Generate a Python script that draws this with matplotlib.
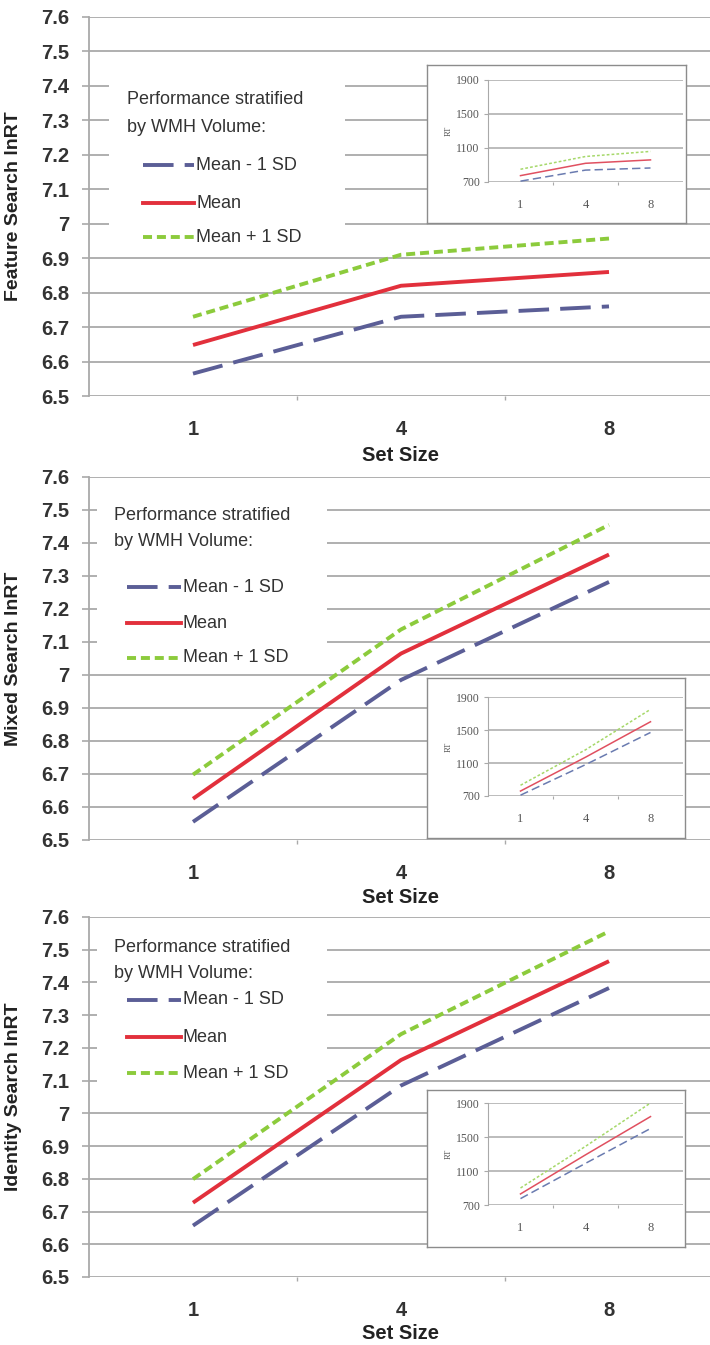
import matplotlib
matplotlib.use('Agg')
import matplotlib.pyplot as plt
import numpy as np
from matplotlib.lines import Line2D
from matplotlib.patches import Rectangle

# values (ln RT per set size)
set_sizes = ['1', '4', '8']
yticks = [6.5, 6.6, 6.7, 6.8, 6.9, 7.0, 7.1, 7.2, 7.3, 7.4, 7.5, 7.6]

feature_minus = [6.565, 6.730, 6.760]
feature_mean = [6.648, 6.820, 6.860]
feature_plus = [6.730, 6.910, 6.957]

mixed_minus = [6.555, 6.985, 7.282]
mixed_mean = [6.625, 7.065, 7.365]
mixed_plus = [6.698, 7.138, 7.455]

identity_minus = [6.657, 7.085, 7.383]
identity_mean = [6.727, 7.163, 7.465]
identity_plus = [6.799, 7.242, 7.556]

# inset values (raw RT)
inset_yticks = [700, 1100, 1500, 1900]
feature_rt_minus = [710, 840, 865]
feature_rt_mean = [775, 920, 960]
feature_rt_plus = [850, 1000, 1060]

mixed_rt_minus = [710, 1080, 1470]
mixed_rt_mean = [760, 1170, 1600]
mixed_rt_plus = [830, 1260, 1750]

identity_rt_minus = [775, 1190, 1600]
identity_rt_mean = [830, 1290, 1740]
identity_rt_plus = [900, 1390, 1900]

ylabels = ['Feature Search lnRT', 'Mixed Search lnRT', 'Identity Search lnRT']
series_names = ['Mean - 1 SD', 'Mean', 'Mean + 1 SD']
legend_title = ['Performance stratified', 'by WMH Volume:']

plt.rcParams['font.family'] = ['Liberation Sans', 'DejaVu Sans']
plt.rcParams['lines.scale_dashes'] = False

W, H = 710, 1345
fig = plt.figure(figsize=(W / 100, H / 100), dpi=100)

GRID = '#a9a9a9'
TXT = '#333333'
styles = [
    dict(color='#5b5e96', lw=2.8, dashes=(22, 8)),
    dict(color='#e2303c', lw=2.8, linestyle='-'),
    dict(color='#8ccb3c', lw=2.8, dashes=(6.5, 3.5)),
]
inset_styles = [
    dict(color='#6a7bb0', lw=1.1, dashes=(6, 3)),
    dict(color='#e05060', lw=1.1, linestyle='-'),
    dict(color='#a6d86a', lw=1.1, dashes=(2, 1.5)),
]


def rect(l, t, r, b):
    return [l / W, 1 - b / H, (r - l) / W, (b - t) / H]


def fx(x):
    return x / W


def fy(y):
    return 1 - y / H


layouts = [
    dict(ax=(89, 17, 713, 396), box=(109, 75, 345, 246), txt_x=127, title_y=(100, 128),
         entry_y=(165, 203, 237), line_x=(143, 194), inset=(427, 65, 686, 223),
         inset_ax=(488, 80, 683, 182), label_pad=5),
    dict(ax=(89, 477, 713, 840), box=(97, 492, 327, 664), txt_x=114, title_y=(515, 541),
         entry_y=(587, 623, 658), line_x=(127, 181), inset=(427, 678, 685, 838),
         inset_ax=(488, 697, 683, 796), label_pad=4),
    dict(ax=(89, 917, 713, 1277), box=(97, 930, 327, 1094), txt_x=114, title_y=(948, 973),
         entry_y=(1000, 1037, 1073), line_x=(127, 181), inset=(427, 1090, 685, 1247),
         inset_ax=(488, 1103, 683, 1205), label_pad=3),
]

main_data = [
    (feature_minus, feature_mean, feature_plus),
    (mixed_minus, mixed_mean, mixed_plus),
    (identity_minus, identity_mean, identity_plus),
]
inset_data = [
    (feature_rt_minus, feature_rt_mean, feature_rt_plus),
    (mixed_rt_minus, mixed_rt_mean, mixed_rt_plus),
    (identity_rt_minus, identity_rt_mean, identity_rt_plus),
]

xpos = np.arange(len(set_sizes)) + 0.5

for i, lay in enumerate(layouts):
    ax = fig.add_axes(rect(*lay['ax']))
    ax.set_zorder(1)
    ax.set_xlim(0, 3)
    ax.set_ylim(6.5, 7.6)
    ax.set_yticks(yticks)
    ax.set_yticklabels([f'{v:g}' for v in yticks])
    ax.set_xticks(xpos)
    ax.set_xticklabels(set_sizes)
    ax.set_xticks([1, 2], minor=True)
    ax.tick_params(axis='x', which='major', length=0, pad=17, labelsize=14.5, labelcolor=TXT)
    ax.tick_params(axis='x', which='minor', length=3, color=GRID, width=1)
    ax.tick_params(axis='y', length=5, width=1.2, color=GRID, pad=9, labelsize=14.5, labelcolor=TXT)
    for lab in ax.get_xticklabels() + ax.get_yticklabels():
        lab.set_fontweight('bold')
    ax.grid(axis='y', color=GRID, lw=1.3)
    ax.set_axisbelow(True)
    for s in ['top', 'right', 'bottom']:
        ax.spines[s].set_visible(False)
    ax.spines['left'].set_color(GRID)
    ax.spines['left'].set_linewidth(1.3)
    ax.set_xlabel('Set Size', fontsize=14.5, fontweight='bold', color='#222222', labelpad=lay['label_pad'])
    ax.set_ylabel(ylabels[i], fontsize=14, fontweight='bold', color='#222222')
    ax.yaxis.set_label_coords(-0.108, 0.5)

    for vals, st in zip(main_data[i], styles):
        ax.plot(xpos, vals, zorder=4, solid_capstyle='butt', dash_capstyle='butt', **st)

    # legend block, drawn like the spreadsheet legend
    l, t, r, b = lay['box']
    ax.add_patch(Rectangle((fx(l), fy(b)), fx(r) - fx(l), fy(t) - fy(b), transform=fig.transFigure,
                           facecolor='white', edgecolor='none', zorder=2))
    for ty, line in zip(lay['title_y'], legend_title):
        fig.text(fx(lay['txt_x']), fy(ty), line, fontsize=13, color=TXT, va='center', ha='left', zorder=5)
    x0, x1 = lay['line_x']
    for ey, name, st in zip(lay['entry_y'], series_names, styles):
        ln = Line2D([fx(x0), fx(x1)], [fy(ey), fy(ey)], transform=fig.transFigure, zorder=5, **st)
        fig.add_artist(ln)
        fig.text(fx(x1 + 2), fy(ey), name, fontsize=13, color=TXT, va='center', ha='left', zorder=5)

    # inset chart
    box = fig.add_axes(rect(*lay['inset']))
    box.set_zorder(2)
    box.set_xticks([])
    box.set_yticks([])
    for s in box.spines.values():
        s.set_color('#8c8c8c')
        s.set_linewidth(1.0)

    ia = fig.add_axes(rect(*lay['inset_ax']))
    ia.set_zorder(3)
    ia.patch.set_alpha(0)
    ia.set_xlim(0, 3)
    ia.set_ylim(700, 1900)
    ia.set_yticks(inset_yticks)
    ia.set_yticklabels([str(v) for v in inset_yticks], family='Liberation Serif')
    ia.set_xticks(xpos)
    ia.set_xticklabels(set_sizes, family='Liberation Serif')
    ia.set_xticks([1, 2], minor=True)
    ia.tick_params(axis='x', which='major', length=0, pad=12, labelsize=9, labelcolor='#555555')
    ia.tick_params(axis='x', which='minor', length=2, color=GRID, width=0.8)
    ia.tick_params(axis='y', length=3, width=0.8, color=GRID, pad=3, labelsize=8.5, labelcolor='#555555')
    ia.grid(axis='y', color=GRID, lw=1.1)
    ia.set_axisbelow(True)
    for s in ['top', 'right', 'bottom']:
        ia.spines[s].set_visible(False)
    ia.spines['left'].set_color(GRID)
    ia.set_ylabel('RT', fontsize=6, family='Liberation Serif', color='#555555', labelpad=2)
    for vals, st in zip(inset_data[i], inset_styles):
        ia.plot(xpos, vals, zorder=4, **st)

fig.savefig('out.png', dpi=100)
